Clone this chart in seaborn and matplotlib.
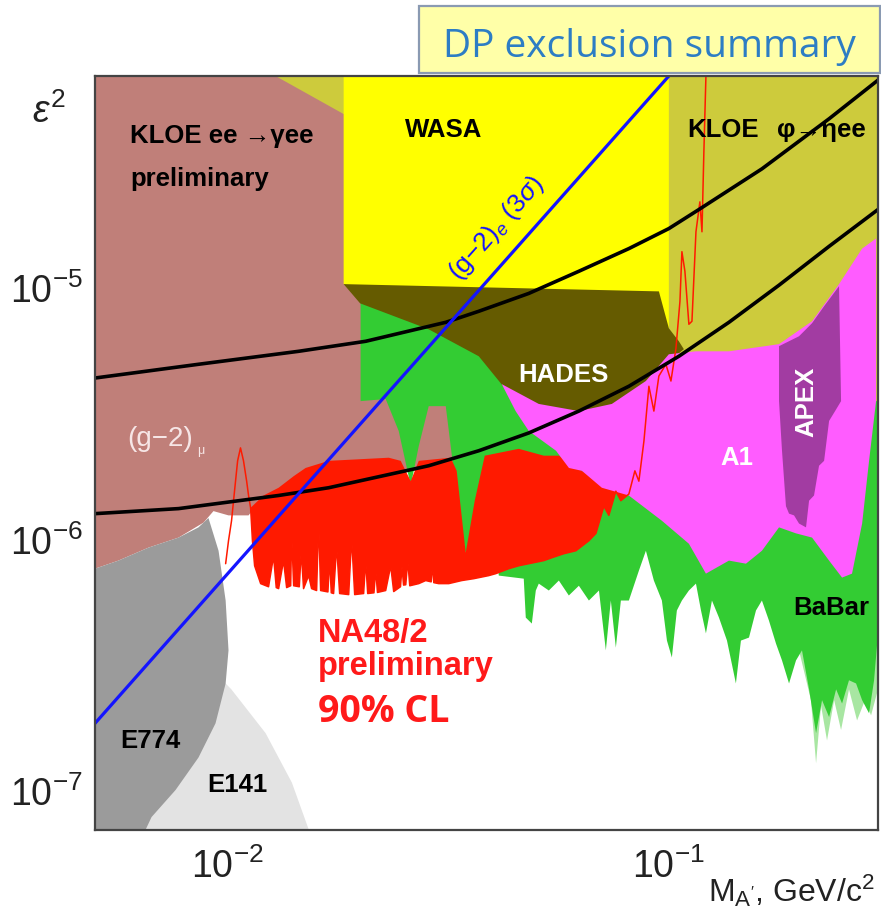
import numpy as np
import matplotlib
matplotlib.use("Agg")
import matplotlib.pyplot as plt
from matplotlib.patches import Rectangle
from matplotlib.ticker import LogLocator, NullFormatter
import seaborn as sns

# ---------------------------------------------------------------------------
# Dark photon exclusion summary: eps^2 versus M_A' (GeV/c^2).
# Every region is an outline of (mass, eps^2) points.
# ---------------------------------------------------------------------------

# KLOE ee -> gamma ee (and (g-2)_mu) excluded region
kloe_ee = [(0.005, 7e-5), (0.0372, 7e-5), (0.0372, 1.88e-6), (0.01696, 1.88e-6),
           (0.01504, 1.79e-6), (0.01306, 1.50e-6), (0.01207, 1.39e-6), (0.01128, 1.28e-6),
           (0.01116, 1.25e-6), (0.01005, 1.25e-6), (0.00929, 1.30e-6), (0.00882, 1.17e-6),
           (0.00774, 1.02e-6), (0.00661, 9.3e-7), (0.00565, 8.26e-7), (0.005, 7.67e-7)]

# beam dump experiments
e141 = [(0.0095, 2.68e-7), (0.0099, 2.68e-7), (0.0102, 2.54e-7), (0.0122, 1.70e-7),
        (0.0140, 1.08e-7), (0.0153, 7e-8), (0.0063, 7e-8), (0.0086, 1.59e-7)]
e774 = [(0.005, 7.67e-7), (0.00565, 8.26e-7), (0.00661, 9.3e-7), (0.00774, 1.02e-6),
        (0.00859, 1.12e-6), (0.00905, 1.22e-6), (0.00954, 9.04e-7), (0.0099, 5.73e-7),
        (0.01005, 3.63e-7), (0.0099, 2.68e-7), (0.00939, 1.86e-7), (0.00859, 1.36e-7),
        (0.00762, 1.01e-7), (0.00672, 7.88e-8), (0.00651, 7e-8), (0.005, 7e-8)]

# BaBar: upper edge sits under the other regions, lower edge is the limit
babar = [(0.02005, 8.9e-6), (0.02005, 3.56e-6), (0.02286, 3.63e-6), (0.02447, 2.71e-6),
         (0.02606, 1.64e-6), (0.02718, 2.36e-6), (0.02863, 3.40e-6), (0.0313, 3.40e-6),
         (0.03263, 1.88e-6), (0.03474, 8.64e-7), (0.03681, 1.43e-6), (0.0392, 2.06e-6),
         (0.0413, 7.20e-7), (0.04706, 7.00e-7), (0.04756, 4.90e-7), (0.04909, 4.64e-7),
         (0.05012, 6.28e-7), (0.05091, 6.69e-7), (0.05365, 6.28e-7), (0.05654, 6.88e-7),
         (0.05957, 6.00e-7), (0.06278, 6.56e-7), (0.06616, 5.73e-7), (0.06973, 6.28e-7),
         (0.07229, 3.63e-7), (0.0742, 5.73e-7), (0.07617, 3.72e-7), (0.0782, 5.73e-7),
         (0.08154, 5.73e-7), (0.08592, 7.53e-7), (0.08913, 9.04e-7), (0.09293, 6.88e-7),
         (0.0969, 5.73e-7), (0.0995, 3.97e-7), (0.1021, 3.40e-7), (0.1048, 5.23e-7),
         (0.1076, 5.73e-7), (0.1116, 6.28e-7), (0.1158, 6.69e-7), (0.1189, 5.23e-7),
         (0.122, 4.24e-7), (0.1259, 5.73e-7), (0.1306, 4.90e-7), (0.1362, 3.97e-7),
         (0.1427, 2.68e-7), (0.1465, 3.97e-7), (0.1528, 4.08e-7), (0.1585, 5.23e-7),
         (0.1635, 5.73e-7), (0.1696, 4.77e-7), (0.176, 3.86e-7), (0.1816, 3.31e-7),
         (0.1884, 2.68e-7), (0.1954, 3.31e-7), (0.2016, 3.63e-7), (0.2092, 2.54e-7),
         (0.217, 1.70e-7), (0.2239, 2.30e-7), (0.2323, 1.97e-7), (0.241, 2.54e-7),
         (0.2486, 2.23e-7), (0.2578, 2.76e-7), (0.2675, 2.68e-7), (0.2761, 2.30e-7),
         (0.2863, 2.04e-7), (0.2939, 2.76e-7), (0.3, 4.24e-7), (0.3, 8.9e-6)]
babar_faint = [(0.1985, 5.73e-7), (0.1985, 3.63e-7), (0.2113, 2.30e-7), (0.217, 1.29e-7),
               (0.2227, 2.19e-7), (0.2298, 1.59e-7), (0.2385, 2.30e-7), (0.2473, 1.75e-7),
               (0.2578, 2.54e-7), (0.2689, 1.91e-7), (0.2803, 2.30e-7), (0.2893, 2.00e-7),
               (0.3, 2.54e-7), (0.3, 5.73e-7)]

# NA48/2 upper limit (90% CL) and the upper edge of its shaded band
na48_limit = [(0.0099, 8.03e-7), (0.01005, 9.91e-7), (0.01021, 1.19e-6), (0.01037, 1.56e-6),
              (0.01054, 2.06e-6), (0.0107, 2.32e-6), (0.01087, 2.06e-6), (0.01105, 1.71e-6),
              (0.01116, 1.50e-6), (0.01128, 1.34e-6), (0.01139, 9.91e-7), (0.01152, 7.88e-7),
              (0.01189, 6.69e-7), (0.01239, 6.50e-7), (0.01272, 8.6e-7), (0.01290, 6.45e-7),
              (0.01306, 6.39e-7), (0.0134, 8.26e-7), (0.01362, 6.45e-7), (0.01391, 6.56e-7),
              (0.01398, 1.06e-6), (0.01413, 6.56e-7), (0.01455, 6.5e-7), (0.01470, 9.0e-7),
              (0.01488, 6.39e-7), (0.01528, 7.20e-7), (0.01552, 6.39e-7), (0.01593, 6.28e-7),
              (0.0161, 1.19e-6), (0.01627, 6.28e-7), (0.01690, 6.2e-7), (0.01705, 8.4e-7),
              (0.01720, 6.15e-7), (0.01741, 6.11e-7), (0.01769, 9.47e-7), (0.01797, 6.11e-7),
              (0.01884, 6.05e-7), (0.01913, 1.02e-6), (0.01944, 6.05e-7), (0.02037, 6.11e-7),
              (0.02059, 8.26e-7), (0.02081, 6.11e-7), (0.02150, 6.15e-7), (0.02170, 7.6e-7),
              (0.02190, 6.17e-7), (0.02286, 6.28e-7), (0.02347, 7.88e-7), (0.02384, 6.22e-7),
              (0.02470, 6.5e-7), (0.02490, 7.8e-7), (0.02510, 6.6e-7), (0.02539, 6.62e-7),
              (0.02566, 8.26e-7), (0.02593, 6.56e-7), (0.02718, 6.69e-7), (0.02818, 6.88e-7),
              (0.02900, 6.8e-7), (0.02920, 8.0e-7), (0.02940, 6.75e-7), (0.03016, 6.69e-7),
              (0.03179, 6.69e-7), (0.03402, 6.88e-7), (0.03623, 7.00e-7), (0.0392, 7.20e-7),
              (0.04065, 7.33e-7), (0.04351, 7.67e-7), (0.04585, 7.88e-7), (0.04831, 8.03e-7),
              (0.05226, 8.26e-7), (0.0545, 8.48e-7), (0.05803, 8.80e-7), (0.0618, 9.04e-7),
              (0.06616, 9.91e-7), (0.06864, 1.06e-6), (0.07154, 1.36e-6), (0.07343, 1.25e-6),
              (0.07617, 1.56e-6), (0.0782, 1.43e-6), (0.08154, 1.52e-6), (0.08414, 1.88e-6),
              (0.08592, 1.71e-6), (0.08822, 2.47e-6), (0.09054, 4.08e-6), (0.09293, 3.25e-6),
              (0.09539, 4.48e-6), (0.09896, 4.99e-6), (0.1016, 4.28e-6), (0.1043, 5.78e-6),
              (0.1065, 8.88e-6), (0.1076, 1.40e-5), (0.1093, 1.17e-5), (0.1116, 7.20e-6),
              (0.1134, 7.40e-6), (0.1158, 1.68e-5), (0.1182, 2.21e-5), (0.1195, 1.68e-5),
              (0.1207, 3.50e-5), (0.122, 7e-5)]
na48_band_top = [(0.01128, 1.34e-6), (0.01207, 1.50e-6), (0.01306, 1.61e-6), (0.01413, 1.79e-6),
                 (0.01504, 1.93e-6), (0.01696, 2.06e-6), (0.02323, 2.12e-6), (0.02473, 2.06e-6),
                 (0.02606, 1.71e-6), (0.02718, 2.06e-6), (0.03212, 2.12e-6), (0.03314, 1.88e-6),
                 (0.03474, 8.88e-7), (0.03642, 1.43e-6), (0.03838, 2.16e-6), (0.04585, 2.30e-6),
                 (0.05226, 2.16e-6), (0.05654, 2.16e-6), (0.06278, 1.91e-6), (0.06973, 1.71e-6),
                 (0.08154, 1.52e-6)]

# KLOE phi -> eta ee
kloe_phi = [(0.01285, 7e-5), (0.3, 7e-5), (0.3, 3.56e-6), (0.098, 3.56e-6),
            (0.098, 2.21e-5), (0.01835, 4.94e-5)]

# WASA
wasa = [(0.01835, 7e-5), (0.1005, 7e-5), (0.1005, 6.94e-6), (0.0929, 6.28e-6),
        (0.0815, 5.62e-6), (0.0746, 5.52e-6), (0.0651, 5.78e-6), (0.0628, 7.07e-6),
        (0.0615, 7.40e-6), (0.0599, 7.07e-6), (0.0580, 6.16e-6), (0.0483, 5.89e-6),
        (0.0407, 6.05e-6), (0.0340, 6.75e-6), (0.0286, 7.60e-6), (0.0202, 9.91e-6),
        (0.01835, 1.04e-5)]

# HADES
hades = [(0.01835, 1.04e-5), (0.0954, 9.73e-6), (0.1005, 6.94e-6), (0.1059, 6.16e-6),
         (0.1087, 5.73e-6), (0.1005, 5.13e-6), (0.0891, 4.08e-6), (0.0746, 3.31e-6),
         (0.0628, 3.10e-6), (0.0509, 3.31e-6), (0.0428, 3.97e-6), (0.0372, 5.37e-6),
         (0.0286, 6.88e-6), (0.0200, 8.72e-6)]

# A1 (MAMI)
a1 = [(0.04195, 4.16e-6), (0.0509, 3.47e-6), (0.0628, 3.25e-6), (0.0746, 3.47e-6),
      (0.0891, 4.28e-6), (0.1005, 5.47e-6), (0.1158, 5.62e-6), (0.1376, 5.62e-6),
      (0.1788, 6.00e-6), (0.2125, 7.40e-6), (0.2447, 1.04e-5), (0.2761, 1.44e-5),
      (0.297, 1.58e-5), (0.297, 3.56e-6), (0.2863, 2.06e-6), (0.2761, 1.16e-6),
      (0.2619, 7.33e-7), (0.2486, 7.07e-7), (0.2323, 8.26e-7), (0.2125, 1.02e-6),
      (0.1954, 1.06e-6), (0.1788, 1.12e-6), (0.1635, 9.04e-7), (0.1504, 8.03e-7),
      (0.1376, 8.26e-7), (0.1220, 7.33e-7), (0.1116, 9.64e-7), (0.0969, 1.19e-6),
      (0.0815, 1.50e-6), (0.0708, 1.61e-6), (0.0638, 1.88e-6), (0.0596, 1.93e-6),
      (0.0557, 2.26e-6), (0.0483, 2.71e-6), (0.0451, 3.25e-6)]

# APEX
apex = [(0.1788, 5.89e-6), (0.1985, 6.45e-6), (0.2125, 7.27e-6), (0.2263, 8.49e-6),
        (0.2447, 1.02e-5), (0.2473, 3.56e-6), (0.2397, 3.25e-6), (0.2323, 2.97e-6),
        (0.2263, 2.06e-6), (0.2204, 1.97e-6), (0.2147, 1.50e-6), (0.2092, 1.43e-6),
        (0.2059, 1.12e-6), (0.1985, 1.16e-6), (0.1934, 1.25e-6), (0.1884, 1.27e-6),
        (0.1854, 1.36e-6), (0.1816, 2.26e-6), (0.1788, 3.56e-6)]

# (g-2)_mu band edges and (g-2)_e 3 sigma line
g2mu_upper = [(0.005, 4.40e-6), (0.00859, 4.99e-6), (0.0145, 5.62e-6), (0.02059, 6.16e-6),
              (0.0313, 7.33e-6), (0.0372, 8.11e-6), (0.04831, 9.55e-6), (0.06278, 1.17e-5),
              (0.08154, 1.44e-5), (0.1005, 1.73e-5), (0.1176, 2.06e-5), (0.145, 2.61e-5),
              (0.1635, 2.99e-5), (0.2323, 4.73e-5), (0.3, 6.74e-5)]
g2mu_lower = [(0.005, 1.27e-6), (0.00774, 1.33e-6), (0.01306, 1.50e-6), (0.01696, 1.61e-6),
              (0.02863, 1.97e-6), (0.0372, 2.26e-6), (0.04831, 2.66e-6), (0.06278, 3.25e-6),
              (0.08154, 4.08e-6), (0.1059, 5.37e-6), (0.1376, 7.33e-6), (0.1788, 1.03e-5),
              (0.2323, 1.47e-5), (0.3, 2.06e-5)]
g2e = [(0.005, 1.86e-7), (0.1005, 7e-5)]

colors = {
    "kloe_ee": "#c07f79", "e774": "#9b9b9b", "e141": "#e3e3e3",
    "babar": "#33cc33", "babar_faint": "#a8e6a2", "na48": "#ff1a00",
    "kloe_phi": "#cdcb3c", "wasa": "#ffff00", "hades": "#655b00",
    "a1": "#ff5cff", "apex": "#a23ca2",
}

# ---------------------------------------------------------------------------
sns.set_style("white")
plt.rcParams["font.family"] = ["Liberation Sans", "DejaVu Sans"]
plt.rcParams["mathtext.fontset"] = "custom"
plt.rcParams["mathtext.rm"] = "Liberation Sans"
plt.rcParams["mathtext.it"] = "Liberation Sans:italic"
plt.rcParams["mathtext.bf"] = "Liberation Sans:bold"

fig = plt.figure(figsize=(8.81, 9.17), dpi=100)
ax = fig.add_axes([95 / 881, 1 - 830 / 917, 783 / 881, 754 / 917])
ax.set_xscale("log")
ax.set_yscale("log")
ax.set_xlim(0.005, 0.3)
ax.set_ylim(7e-8, 7e-5)


def region(points, key, z):
    m, e = np.array(points).T
    ax.fill(m, e, color=colors[key], lw=0, zorder=z)


region(kloe_ee, "kloe_ee", 1)
region(e141, "e141", 2)
region(e774, "e774", 3)
region(babar_faint, "babar_faint", 4)
region(babar, "babar", 5)

# NA48/2 band: from the limit up to the band top
lim_m, lim_e = np.array(na48_limit).T
top_m, top_e = np.array(na48_band_top).T
sel = (lim_m >= top_m[0]) & (lim_m <= top_m[-1])
ax.fill(np.concatenate([top_m, lim_m[sel][::-1]]),
        np.concatenate([top_e, lim_e[sel][::-1]]),
        color=colors["na48"], lw=0, zorder=6)

region(kloe_phi, "kloe_phi", 7)
region(wasa, "wasa", 8)
region(hades, "hades", 9)
region(a1, "a1", 10)
region(apex, "apex", 11)

# curves
sns.lineplot(x=lim_m, y=lim_e, ax=ax, color=colors["na48"], linewidth=1.1,
             sort=False, estimator=None, zorder=12)
for pts in (g2mu_upper, g2mu_lower):
    m, e = np.array(pts).T
    sns.lineplot(x=m, y=e, ax=ax, color="black", linewidth=2.6,
                 sort=False, estimator=None, zorder=13)
m, e = np.array(g2e).T
sns.lineplot(x=m, y=e, ax=ax, color="#1414ff", linewidth=2.3,
             sort=False, estimator=None, zorder=14)

# ---------------------------------------------------------------------------
# axes, ticks
ax.set_xticks([0.01, 0.1])
ax.set_xticklabels([r"$10^{-2}$", r"$10^{-1}$"])
ax.set_yticks([1e-7, 1e-6, 1e-5])
ax.set_yticklabels([r"$10^{-7}$", r"$10^{-6}$", r"$10^{-5}$"])
ax.xaxis.set_minor_locator(LogLocator(base=10, subs=np.arange(2, 10)))
ax.yaxis.set_minor_locator(LogLocator(base=10, subs=np.arange(2, 10)))
ax.xaxis.set_minor_formatter(NullFormatter())
ax.yaxis.set_minor_formatter(NullFormatter())
ax.tick_params(which="both", direction="in", top=False, right=False,
               color="#333333", width=1.3, zorder=20)
ax.tick_params(which="major", length=16, labelsize=27, colors="#222222")
ax.tick_params(which="minor", length=8)
ax.tick_params(axis="x", which="major", pad=13)
ax.tick_params(axis="y", which="major", pad=9)
for sp in ax.spines.values():
    sp.set_color("#444444")
    sp.set_linewidth(1.6)
    sp.set_zorder(20)
ax.grid(False)
ax.set_xlabel("")
ax.set_ylabel("")

fig.text(32 / 881, 1 - 123 / 917, r"$\varepsilon^{2}$", fontsize=27, color="#222222",
         va="baseline")
ax.text(0.7829, -0.0955, r"M$_{\mathrm{A}'}$, GeV/c$^{2}$", transform=ax.transAxes,
        fontsize=23, color="#222222", va="baseline", ha="left")

# ---------------------------------------------------------------------------
# region labels
lab = dict(transform=ax.transAxes, va="baseline", ha="left", zorder=30)
bold = dict(fontsize=18.5, fontweight="bold")
ax.text(0.0447, 0.9111, "KLOE ee →γee", color="black", **bold, **lab)
ax.text(0.0447, 0.8541, "preliminary", color="black", **bold, **lab)
ax.text(0.3959, 0.9191, "WASA", color="black", **bold, **lab)
ax.text(0.7561, 0.9191, "KLOE", color="black", **bold, **lab)
ax.text(0.8710, 0.9191, "φ→ηee", color="black", **bold, **lab)
ax.text(0.0409, 0.5093, "(g−2)", color="#f6e6e6", fontsize=20, **lab)
ax.text(0.1300, 0.4990, "μ", color="#f6e6e6", fontsize=9, **lab)
ax.text(0.5402, 0.5942, "HADES", color="white", **bold, **lab)
ax.text(0.7982, 0.4841, "A1", color="white", **bold, **lab)
ax.text(0.9080, 0.5676, "APEX", color="white", rotation=90, ha="center", va="center",
        transform=ax.transAxes, zorder=30, **bold)
ax.text(0.8914, 0.2851, "BaBar", color="black", **bold, **lab)
ax.text(0.0319, 0.1088, "E774", color="black", **bold, **lab)
ax.text(0.1430, 0.0504, "E141", color="black", **bold, **lab)
ax.text(0.2848, 0.2493, "NA48/2", color="#ff1a1a", fontsize=23.5, fontweight="bold", **lab)
ax.text(0.2848, 0.2056, "preliminary", color="#ff1a1a", fontsize=23.5, fontweight="bold", **lab)
ax.text(0.2848, 0.1432, "90% CL", color="#ff1a1a", fontsize=27, fontweight="bold",
        family=["Open Sans", "DejaVu Sans"], **lab)
ax.text(0.5134, 0.7984, r"(g$-$2)$_{e}$ (3$\sigma$)", color="#1414ff", fontsize=19,
        rotation=48.4, rotation_mode="anchor", ha="center", va="center",
        transform=ax.transAxes, zorder=30)

# title box
fig.patches.append(Rectangle((419 / 881, 1 - 73 / 917), 461 / 881, 67 / 917,
                             transform=fig.transFigure, facecolor="#ffffa8",
                             edgecolor="#8a9ab2", linewidth=1.6, zorder=40))
fig.text(443 / 881, 1 - 57 / 917, "DP exclusion summary", fontsize=28,
         family=["Open Sans", "DejaVu Sans"], color="#2d7dc4", va="baseline",
         zorder=41)

fig.savefig("out.png", dpi=100)
